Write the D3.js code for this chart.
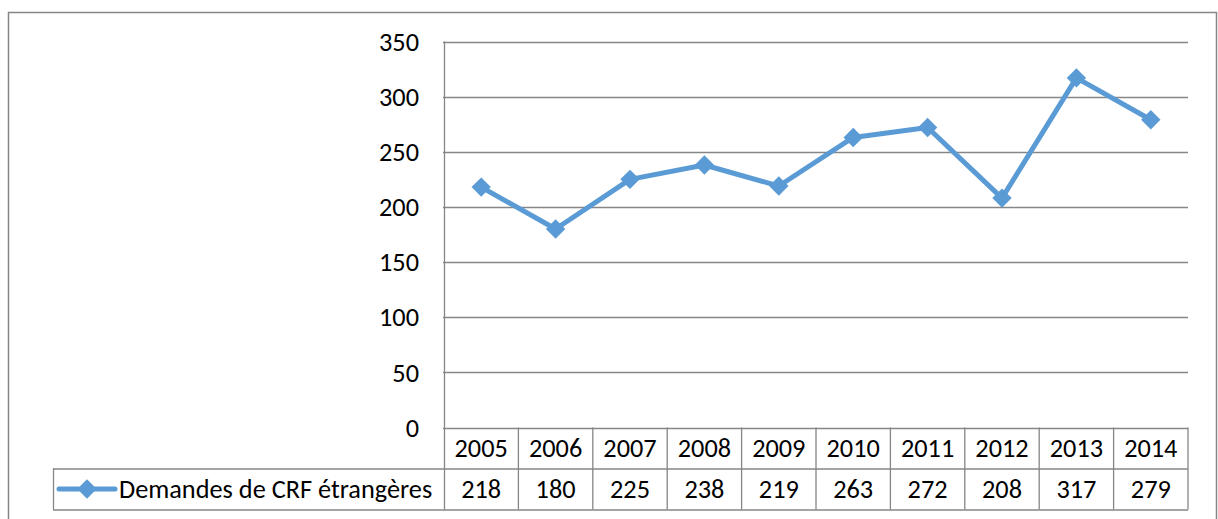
<!DOCTYPE html>
<html>
<head>
<meta charset="utf-8">
<script src="https://cdn.jsdelivr.net/npm/d3@7"></script>
<style>
  body { margin: 0; background: #fff; }
  svg text { font-family: Calibri, Carlito, Lato, sans-serif; fill: #000; }
</style>
</head>
<body>
<div id="chart"></div>
<script>
// data
const years = ["2005", "2006", "2007", "2008", "2009", "2010", "2011", "2012", "2013", "2014"];
const values = [218, 180, 225, 238, 219, 263, 272, 208, 317, 279];
const seriesName = "Demandes de CRF étrangères";
const yTicks = [0, 50, 100, 150, 200, 250, 300, 350];

const W = 1218, H = 519;
const margin = {top: 41.5, left: 444, right: 30, bottom: 91.5};
const plotBottom = H - margin.bottom,       // y of the 0 line
    plotRight = W - margin.right,
    rowH = 41,                                 // data table row height
    legendLeft = 53,
    fontSize = 26.3,
    lineColor = "#5B9BD5",
    gridColor = "#868686";

const svg = d3.select("#chart").append("svg")
    .attr("width", W)
    .attr("height", H);

// outer chart border
svg.append("rect")
    .attr("x", 8.5).attr("y", 12.5)
    .attr("width", 1208).attr("height", 530)
    .attr("fill", "none")
    .attr("stroke", gridColor)
    .attr("stroke-width", 1.5);

const x = d3.scaleBand().domain(years).range([margin.left, plotRight]);
const y = d3.scaleLinear().domain([0, 350]).range([plotBottom, margin.top]);

// gridlines
svg.append("g")
    .selectAll("line")
    .data(yTicks)
    .join("line")
    .attr("x1", margin.left - 1)
    .attr("x2", plotRight)
    .attr("y1", d => Math.round(y(d)) + 0.5)
    .attr("y2", d => Math.round(y(d)) + 0.5)
    .attr("stroke", gridColor)
    .attr("stroke-width", 1.3);

// y tick labels
svg.append("g")
    .selectAll("text")
    .data(yTicks)
    .join("text")
    .attr("x", 419)
    .attr("y", d => y(d))
    .attr("dy", "0.35em")
    .attr("text-anchor", "end")
    .attr("font-size", fontSize)
    .text(d => d);

// data table lines
const tbl = svg.append("g")
    .attr("stroke", gridColor)
    .attr("stroke-width", 1.3)
    .attr("fill", "none");

// left axis, running down through the table
tbl.append("line")
    .attr("x1", margin.left + 0.5).attr("x2", margin.left + 0.5)
    .attr("y1", margin.top).attr("y2", plotBottom + 2 * rowH);

// column separators
tbl.selectAll("line.col")
    .data(years)
    .join("line")
    .attr("class", "col")
    .attr("x1", d => x(d) + x.bandwidth())
    .attr("x2", d => x(d) + x.bandwidth())
    .attr("y1", plotBottom)
    .attr("y2", plotBottom + 2 * rowH);

// horizontal table lines
tbl.append("line")
    .attr("x1", legendLeft).attr("x2", plotRight)
    .attr("y1", plotBottom + rowH + 0.5).attr("y2", plotBottom + rowH + 0.5);
tbl.append("line")
    .attr("x1", legendLeft).attr("x2", plotRight)
    .attr("y1", plotBottom + 2 * rowH + 0.5).attr("y2", plotBottom + 2 * rowH + 0.5);
tbl.append("line")
    .attr("x1", legendLeft + 0.5).attr("x2", legendLeft + 0.5)
    .attr("y1", plotBottom + rowH).attr("y2", plotBottom + 2 * rowH);

// year row
svg.append("g")
    .selectAll("text")
    .data(years)
    .join("text")
    .attr("x", d => x(d) + x.bandwidth() / 2)
    .attr("y", plotBottom + rowH / 2)
    .attr("dy", "0.35em")
    .attr("text-anchor", "middle")
    .attr("font-size", fontSize)
    .text(d => d);

// value row
svg.append("g")
    .selectAll("text")
    .data(values)
    .join("text")
    .attr("x", (d, i) => x(years[i]) + x.bandwidth() / 2)
    .attr("y", plotBottom + rowH * 1.5)
    .attr("dy", "0.35em")
    .attr("text-anchor", "middle")
    .attr("font-size", fontSize)
    .text(d => d);

// legend key in table
const legendY = plotBottom + rowH * 1.5;
svg.append("line")
    .attr("x1", 59).attr("x2", 115)
    .attr("y1", legendY).attr("y2", legendY)
    .attr("stroke", lineColor)
    .attr("stroke-width", 5)
    .attr("stroke-linecap", "round");

const diamond = d3.symbol().type(d3.symbolDiamond2).size(240);

svg.append("path")
    .attr("d", diamond())
    .attr("transform", `translate(87,${legendY})`)
    .attr("fill", lineColor);

svg.append("text")
    .attr("x", 119)
    .attr("y", legendY)
    .attr("dy", "0.35em")
    .attr("font-size", fontSize)
    .text(seriesName);

// the series line
const line = d3.line()
    .x((d, i) => x(years[i]) + x.bandwidth() / 2)
    .y(d => y(d));

svg.append("path")
    .datum(values)
    .attr("d", line)
    .attr("fill", "none")
    .attr("stroke", lineColor)
    .attr("stroke-width", 5)
    .attr("stroke-linejoin", "round");

svg.append("g")
    .selectAll("path")
    .data(values)
    .join("path")
    .attr("d", diamond())
    .attr("transform", (d, i) => `translate(${x(years[i]) + x.bandwidth() / 2},${y(d)})`)
    .attr("fill", lineColor);
</script>
</body>
</html>
